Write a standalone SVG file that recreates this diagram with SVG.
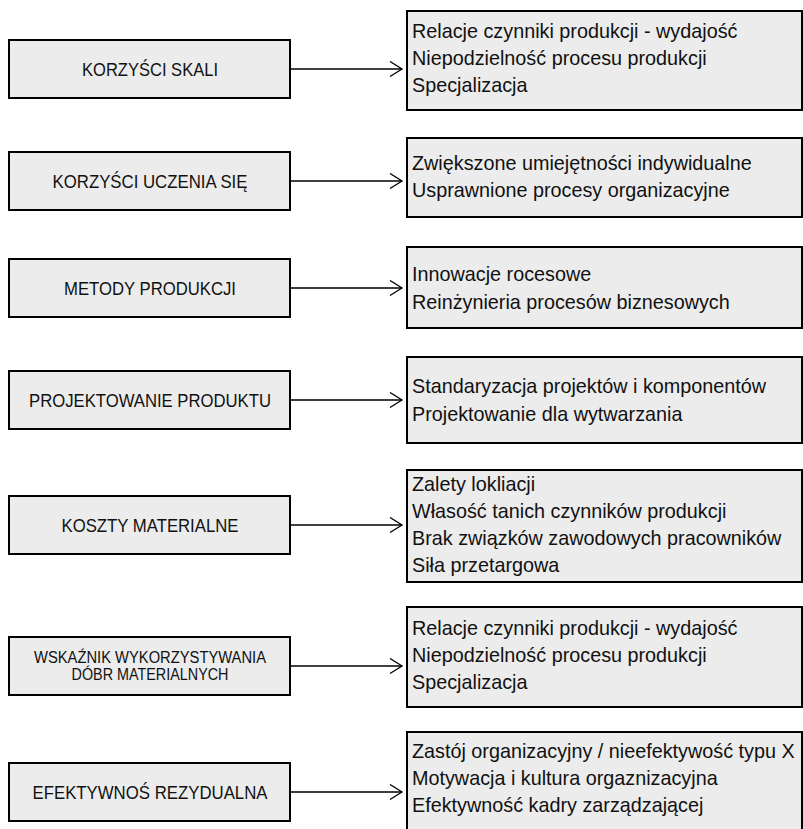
<svg xmlns="http://www.w3.org/2000/svg" width="803" height="829" viewBox="0 0 803 829">
<style>
.box{fill:#ececec;stroke:#000;stroke-width:2}
.lbl{font-family:"Liberation Sans",Arial,sans-serif;font-size:18.5px;fill:#111;text-anchor:middle}
.lbls{font-family:"Liberation Sans",Arial,sans-serif;font-size:15.8px;fill:#111;text-anchor:middle}
.itm{font-family:"Liberation Sans",Arial,sans-serif;font-size:19.8px;fill:#111}
.con{stroke:#000;stroke-width:1.3;fill:none}
</style>
<defs>
<marker id="arr" markerWidth="16" markerHeight="18" refX="13" refY="8" orient="auto" markerUnits="userSpaceOnUse">
<path d="M1,0.5 L13,8 L1,15.5" fill="none" stroke="#000" stroke-width="1.3"/>
</marker>
</defs>
<rect width="803" height="829" fill="#fff"/>

<g id="n1">
<rect class="box" x="9" y="40" width="281" height="58"/>
<text class="lbl" x="150" y="76" textLength="136" lengthAdjust="spacingAndGlyphs">KORZYŚCI SKALI</text>
</g>
<g id="r1">
<rect class="box" x="407" y="11" width="395" height="99"/>
<text class="itm" x="412" y="38">Relacje czynniki produkcji - wydajość</text>
<text class="itm" x="412" y="65">Niepodzielność procesu produkcji</text>
<text class="itm" x="412" y="92">Specjalizacja</text>
</g>

<g id="n2">
<rect class="box" x="9" y="152" width="281" height="58"/>
<text class="lbl" x="150" y="188" textLength="195" lengthAdjust="spacingAndGlyphs">KORZYŚCI UCZENIA SIĘ</text>
</g>
<g id="r2">
<rect class="box" x="407" y="138" width="395" height="79"/>
<text class="itm" x="412" y="170">Zwiększone umiejętności indywidualne</text>
<text class="itm" x="412" y="197">Usprawnione procesy organizacyjne</text>
</g>

<g id="n3">
<rect class="box" x="9" y="259" width="281" height="58"/>
<text class="lbl" x="150" y="295" textLength="172" lengthAdjust="spacingAndGlyphs">METODY PRODUKCJI</text>
</g>
<g id="r3">
<rect class="box" x="407" y="247" width="395" height="81"/>
<text class="itm" x="412" y="281">Innowacje rocesowe</text>
<text class="itm" x="412" y="309">Reinżynieria procesów biznesowych</text>
</g>

<g id="n4">
<rect class="box" x="9" y="371" width="281" height="58"/>
<text class="lbl" x="150" y="407" textLength="242" lengthAdjust="spacingAndGlyphs">PROJEKTOWANIE PRODUKTU</text>
</g>
<g id="r4">
<rect class="box" x="407" y="357" width="395" height="86"/>
<text class="itm" x="412" y="393">Standaryzacja projektów i komponentów</text>
<text class="itm" x="412" y="421">Projektowanie dla wytwarzania</text>
</g>

<g id="n5">
<rect class="box" x="9" y="496" width="281" height="58"/>
<text class="lbl" x="150" y="532" textLength="177" lengthAdjust="spacingAndGlyphs">KOSZTY MATERIALNE</text>
</g>
<g id="r5">
<rect class="box" x="407" y="470" width="395" height="112"/>
<text class="itm" x="412" y="491">Zalety lokliacji</text>
<text class="itm" x="412" y="518">Własość tanich czynników produkcji</text>
<text class="itm" x="412" y="545">Brak związków zawodowych pracowników</text>
<text class="itm" x="412" y="572">Siła przetargowa</text>
</g>

<g id="n6">
<rect class="box" x="9" y="637" width="281" height="58"/>
<text class="lbls" x="150" y="663" textLength="232" lengthAdjust="spacingAndGlyphs">WSKAŹNIK WYKORZYSTYWANIA</text>
<text class="lbls" x="150" y="680" textLength="157" lengthAdjust="spacingAndGlyphs">DÓBR MATERIALNYCH</text>
</g>
<g id="r6">
<rect class="box" x="407" y="607" width="395" height="100"/>
<text class="itm" x="412" y="635">Relacje czynniki produkcji - wydajość</text>
<text class="itm" x="412" y="662">Niepodzielność procesu produkcji</text>
<text class="itm" x="412" y="689">Specjalizacja</text>
</g>

<g id="n7">
<rect class="box" x="9" y="763" width="281" height="58"/>
<text class="lbl" x="150" y="799" textLength="235" lengthAdjust="spacingAndGlyphs">EFEKTYWNOŚ REZYDUALNA</text>
</g>
<g id="r7">
<rect class="box" x="407" y="732" width="395" height="110"/>
<text class="itm" x="412" y="758">Zastój organizacyjny / nieefektywość typu X</text>
<text class="itm" x="412" y="785">Motywacja i kultura orgaznizacyjna</text>
<text class="itm" x="412" y="812">Efektywność kadry zarządzającej</text>
</g>

<g id="connectors">
<line class="con" x1="291" y1="69" x2="402" y2="69" marker-end="url(#arr)"/>
<line class="con" x1="291" y1="181" x2="402" y2="181" marker-end="url(#arr)"/>
<line class="con" x1="291" y1="288" x2="402" y2="288" marker-end="url(#arr)"/>
<line class="con" x1="291" y1="400" x2="402" y2="400" marker-end="url(#arr)"/>
<line class="con" x1="291" y1="525" x2="402" y2="525" marker-end="url(#arr)"/>
<line class="con" x1="291" y1="666" x2="402" y2="666" marker-end="url(#arr)"/>
<line class="con" x1="291" y1="792" x2="402" y2="792" marker-end="url(#arr)"/>
</g>
</svg>
